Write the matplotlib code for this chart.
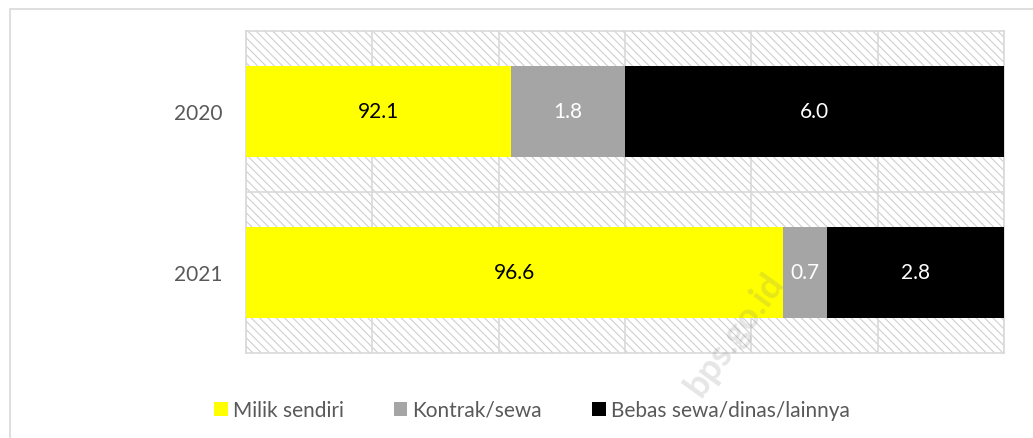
import matplotlib.pyplot as plt
import numpy as np
from matplotlib.patches import Rectangle, Patch

plt.rcParams['font.family'] = ['Lato', 'DejaVu Sans']
plt.rcParams['hatch.linewidth'] = 0.8

## Chart data
years = ["2020", "2021"]
series_names = ["Milik sendiri", "Kontrak/sewa", "Bebas sewa/dinas/lainnya"]
milik = [92.1, 96.6]
kontrak = [1.8, 0.7]
bebas = [6.0, 2.8]
colors = ["#ffff00", "#a5a5a5", "#000000"]
label_colors = ["black", "white", "white"]

W, H = 1033, 439
fig = plt.figure(figsize=(W / 100, H / 100), dpi=100)
ax = fig.add_axes([246 / W, 1 - 354 / H, (1004 - 246) / W, (354 - 32) / H])

# outer chart border
fig.patches.append(Rectangle((10 / W, -0.1), 1.2, 1 - 10 / H + 0.1,
                             transform=fig.transFigure, fill=False,
                             edgecolor="#d9d9d9", linewidth=1.2))

# hatched plot area
ax.add_patch(Rectangle((0, 0), 1, 1, transform=ax.transAxes, facecolor="white",
                       edgecolor="#cfcfcf", hatch="\\\\\\\\", linewidth=0, zorder=0))

# the chart is a 100% stacked bar: each year is scaled to its own total
totals = np.array(milik) + np.array(kontrak) + np.array(bebas)

y = np.arange(len(years))
left = np.zeros(len(years))
for vals, name, col, lcol in zip([milik, kontrak, bebas], series_names, colors, label_colors):
    vals = np.array(vals)
    share = vals / totals * 100
    ax.barh(y, share, left=left, height=0.57, color=col, zorder=3)
    for yi, l, s, v in zip(y, left, share, vals):
        # x axis starts at 88, so first segment label sits in the visible part
        x0 = max(l, 88)
        ax.text((x0 + l + s) / 2, yi, f"{v:.1f}", ha="center", va="center",
                color=lcol, fontsize=15, zorder=4)
    left = left + share

ax.set_xlim(88, 100)
ax.set_ylim(1.5, -0.5)
ax.set_xticks(np.arange(88, 101, 2))
ax.set_xticklabels([])
ax.set_yticks(y)
ax.set_yticklabels(years, color="#595959", fontsize=15)
ax.set_yticks([0.5], minor=True)
ax.tick_params(axis="both", length=0)
ax.tick_params(axis="y", pad=17)
ax.tick_params(axis="y", which="minor", length=0)
ax.grid(axis="x", color="#d9d9d9", linewidth=1.2, zorder=1)
ax.grid(axis="y", which="minor", color="#d9d9d9", linewidth=1.2, zorder=1)
ax.set_axisbelow(True)
for s in ax.spines.values():
    s.set_color("#d9d9d9")
    s.set_linewidth(1.2)

# watermark, drawn on top of the bars
ax.text(785 / W * 1.0, 1 - 282 / H, "bps.go.id", transform=fig.transFigure,
        rotation=54, rotation_mode="anchor", fontsize=26, fontweight="bold",
        color="#808080", alpha=0.2, ha="right", va="baseline", zorder=10,
        clip_on=False)

handles = [Patch(facecolor=c, edgecolor="none") for c in colors]
fig.legend(handles, series_names, loc="center", bbox_to_anchor=(532 / W, 1 - 411 / H), ncol=3,
           frameon=False, fontsize=15, handlelength=0.65, handleheight=0.65,
           handletextpad=0.25, columnspacing=2.4, labelcolor="#595959")

fig.savefig("out.png", dpi=100)
